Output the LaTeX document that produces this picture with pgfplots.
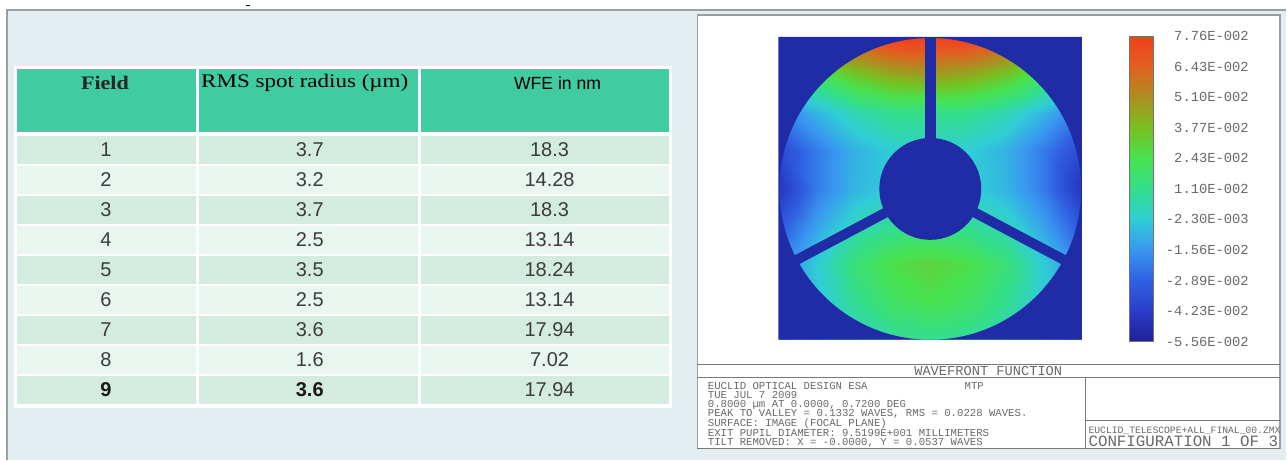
\documentclass[border=0pt]{standalone}
\usepackage{pgfplots}
\usepackage{pgfplotstable}
\pgfplotsset{compat=1.18}
\usepackage{fontspec}
\setmainfont{Liberation Sans}
\newfontfamily\serifface{Liberation Serif}
\newfontfamily\monoface{Liberation Mono}
\definecolor{bg}{RGB}{228,238,241}
\definecolor{framec}{RGB}{150,160,162}
\definecolor{hdr}{RGB}{64,204,160}
\definecolor{rowA}{RGB}{212,236,224}
\definecolor{rowB}{RGB}{233,245,239}
\definecolor{deep}{RGB}{32,44,165}
\definecolor{txt}{RGB}{60,60,60}
\definecolor{ztxt}{RGB}{105,105,105}
\definecolor{zline}{RGB}{120,120,120}
\pgfplotsset{colormap={wf}{rgb255(0cm)=(32,32,150); rgb255(1cm)=(40,60,200); rgb255(2cm)=(48,96,226); rgb255(3cm)=(56,150,240); rgb255(4cm)=(48,205,214); rgb255(5cm)=(52,222,140); rgb255(6cm)=(72,226,80); rgb255(7cm)=(120,192,32); rgb255(8cm)=(172,142,32); rgb255(9cm)=(226,96,32); rgb255(10cm)=(242,64,30)}}

\pgfplotstableread[col sep=comma]{
x,y,lab
106,150,1
106,180,2
106,210,3
106,240,4
106,270,5
106,300,6
106,330,7
106,360,8
310,150,3.7
310,180,3.2
310,210,3.7
310,240,2.5
310,270,3.5
310,300,2.5
310,330,3.6
310,360,1.6
550,150,18.3
550,180,14.28
550,210,18.3
550,240,13.14
550,270,18.24
550,300,13.14
550,330,17.94
550,360,7.02
550,390,17.94
}\bodytab

\pgfplotstableread[col sep=comma]{
x,y,lab
106,390,9
310,390,3.6
}\boldtab

\pgfplotstableread{
x y z
-1 -1 -0.015
-0.75 -1 -0.008
-0.5 -1 0.002
-0.25 -1 0.008
0 -1 0.010
0.25 -1 0.008
0.5 -1 0.002
0.75 -1 -0.008
1 -1 -0.015
-1 -0.75 -0.015
-0.75 -0.75 -0.004
-0.5 -0.75 0.010
-0.25 -0.75 0.020
0 -0.75 0.024
0.25 -0.75 0.020
0.5 -0.75 0.010
0.75 -0.75 -0.004
1 -0.75 -0.015
-1 -0.5 -0.020
-0.75 -0.5 -0.002
-0.5 -0.5 0.016
-0.25 -0.5 0.026
0 -0.5 0.030
0.25 -0.5 0.026
0.5 -0.5 0.016
0.75 -0.5 -0.002
1 -0.5 -0.020
-1 -0.25 -0.032
-0.75 -0.25 -0.012
-0.5 -0.25 0.003
-0.25 -0.25 0.010
0 -0.25 0.012
0.25 -0.25 0.010
0.5 -0.25 0.003
0.75 -0.25 -0.012
1 -0.25 -0.032
-1 0 -0.045
-0.75 0 -0.022
-0.5 0 -0.008
-0.25 0 -0.002
0 0 0.000
0.25 0 -0.002
0.5 0 -0.008
0.75 0 -0.022
1 0 -0.045
-1 0.25 -0.038
-0.75 0.25 -0.022
-0.5 0.25 -0.009
-0.25 0.25 -0.002
0 0.25 0.000
0.25 0.25 -0.002
0.5 0.25 -0.009
0.75 0.25 -0.022
1 0.25 -0.038
-1 0.5 -0.022
-0.75 0.5 -0.008
-0.5 0.5 0.004
-0.25 0.5 0.011
0 0.5 0.012
0.25 0.5 0.011
0.5 0.5 0.004
0.75 0.5 -0.008
1 0.5 -0.022
-1 0.75 0.006
-0.75 0.75 0.020
-0.5 0.75 0.034
-0.25 0.75 0.043
0 0.75 0.046
0.25 0.75 0.043
0.5 0.75 0.034
0.75 0.75 0.020
1 0.75 0.006
-1 1 0.045
-0.75 1 0.056
-0.5 1 0.068
-0.25 1 0.078
0 1 0.082
0.25 1 0.078
0.5 1 0.068
0.75 1 0.056
1 1 0.045
}\wftab

\begin{document}
\begin{tikzpicture}
\begin{axis}[at={(0pt,0pt)}, anchor=north west, scale only axis,
  width=643.5pt, height=230pt, xmin=0, xmax=1287, ymin=0, ymax=460,
  y dir=reverse, hide axis, clip=false]
% canvas
\fill[white] (axis cs:0,0) rectangle (axis cs:1287,460);
\fill[bg] (axis cs:7,9) rectangle (axis cs:1287,460);
\draw[framec, line width=1pt] (axis cs:7,460) -- (axis cs:7,9.5) -- (axis cs:1287,9.5);
\fill[black] (axis cs:246,4.5) rectangle (axis cs:250,6);
% table frame and cells
\fill[white] (axis cs:14,66) rectangle (axis cs:673,408);
\fill[hdr] (axis cs:17,69) rectangle (axis cs:196,132);
\fill[hdr] (axis cs:199,69) rectangle (axis cs:418,132);
\fill[hdr] (axis cs:421,69) rectangle (axis cs:670,132);
\pgfplotsinvokeforeach{0,2,4,6,8}{
  \fill[rowA] (axis cs:17,{136+30*#1}) rectangle (axis cs:196,{164+30*#1});
  \fill[rowA] (axis cs:199,{136+30*#1}) rectangle (axis cs:418,{164+30*#1});
  \fill[rowA] (axis cs:421,{136+30*#1}) rectangle (axis cs:670,{164+30*#1});
}
\pgfplotsinvokeforeach{1,3,5,7}{
  \fill[rowB] (axis cs:17,{136+30*#1}) rectangle (axis cs:196,{164+30*#1});
  \fill[rowB] (axis cs:199,{136+30*#1}) rectangle (axis cs:418,{164+30*#1});
  \fill[rowB] (axis cs:421,{136+30*#1}) rectangle (axis cs:670,{164+30*#1});
}
% header text
\addplot[draw=none, mark=none, point meta=explicit symbolic,
  nodes near coords={\scalebox{1.15}[1]{\pgfplotspointmeta}},
  every node near coord/.append style={font=\serifface\bfseries\fontsize{9.6}{11}\selectfont, text=black!85, anchor=center, inner sep=0pt}]
  table[col sep=comma, meta=lab] {
x,y,lab
105,83,Field
};
\addplot[draw=none, mark=none, point meta=explicit symbolic,
  nodes near coords={\scalebox{1.2}[1]{\pgfplotspointmeta}},
  every node near coord/.append style={font=\serifface\fontsize{9.6}{11}\selectfont, text=black, anchor=center, inner sep=0pt}]
  table[col sep=comma, meta=lab] {
x,y,lab
305,83,RMS spot radius (µm)
};
\addplot[draw=none, mark=none, point meta=explicit symbolic, nodes near coords,
  every node near coord/.append style={font=\fontsize{8.8}{10}\selectfont, text=black, anchor=center, inner sep=0pt}]
  table[col sep=comma, meta=lab] {
x,y,lab
558,83,WFE in nm
};
% body text
\addplot[draw=none, mark=none, point meta=explicit symbolic, nodes near coords,
  every node near coord/.append style={font=\fontsize{10}{12}\selectfont, text=txt, anchor=center, inner sep=0pt}]
  table[x=x, y=y, meta=lab] {\bodytab};
\addplot[draw=none, mark=none, point meta=explicit symbolic, nodes near coords,
  every node near coord/.append style={font=\bfseries\fontsize{10}{12}\selectfont, text=black!90, anchor=center, inner sep=0pt}]
  table[x=x, y=y, meta=lab] {\boldtab};
% right panel
\fill[white] (axis cs:698,15) rectangle (axis cs:1281,449);
\draw[framec, line width=0.6pt] (axis cs:698,15) rectangle (axis cs:1281,449);
\draw[zline, line width=0.5pt] (axis cs:698,365) -- (axis cs:1281,365);
\draw[zline, line width=0.5pt] (axis cs:698,378) -- (axis cs:1281,378);
\draw[zline, line width=0.5pt] (axis cs:1086,378) -- (axis cs:1086,449);
\draw[zline, line width=0.5pt] (axis cs:1086,421) -- (axis cs:1281,421);
\draw[zline, line width=0.5pt] (axis cs:698,449) -- (axis cs:1281,449);
\node[font=\monoface\fontsize{6.85}{8}\selectfont, text=ztxt, inner sep=0pt] at (axis cs:989,371.5) {WAVEFRONT FUNCTION};
\begin{scope}[every node/.style={font=\monoface\fontsize{5.33}{6}\selectfont, text=ztxt, inner sep=0pt, anchor=west}]
\node at (axis cs:708,386) {EUCLID OPTICAL DESIGN ESA};
\node at (axis cs:965,386) {MTP};
\node at (axis cs:708,395.5) {TUE JUL 7 2009};
\node at (axis cs:708,405) {0.8000 µm AT 0.0000, 0.7200 DEG};
\node at (axis cs:708,414.5) {PEAK TO VALLEY = 0.1332 WAVES, RMS = 0.0228 WAVES.};
\node at (axis cs:708,424) {SURFACE: IMAGE (FOCAL PLANE)};
\node at (axis cs:708,433.5) {EXIT PUPIL DIAMETER: 9.5199E+001 MILLIMETERS};
\node at (axis cs:708,443) {TILT REMOVED: X = -0.0000, Y = 0.0537 WAVES};
\end{scope}
\node[font=\monoface\fontsize{4.85}{6}\selectfont, text=ztxt, inner sep=0pt, anchor=west] at (axis cs:1089,431) {EUCLID\_TELESCOPE+ALL\_FINAL\_00.ZMX};
\node[font=\monoface\fontsize{7.9}{9}\selectfont, text=ztxt, inner sep=0pt, anchor=west] at (axis cs:1089,442) {CONFIGURATION 1 OF 3};
\end{axis}

\begin{axis}[at={(389.5pt,-18.5pt)}, anchor=north west, scale only axis,
  width=152pt, height=151.5pt, view={0}{90},
  xmin=-1.007, xmax=1.007, ymin=-1, ymax=1.007, hide axis,
  colormap name=wf, point meta min=-0.0556, point meta max=0.0776,
  colorbar,
  colorbar style={at={(parent axis.north east)}, anchor=north west,
    xshift=15pt, yshift=0.5pt, scale only axis, width=12pt, height=153pt,
    scaled y ticks=false,
    ytick={-0.0556,-0.04228,-0.02896,-0.01564,-0.00232,0.011,0.02432,0.03764,0.05096,0.06428,0.0776},
    yticklabels={-5.56E-002,-4.23E-002,-2.89E-002,-1.56E-002,-2.30E-003,1.10E-002,2.43E-002,3.77E-002,5.10E-002,6.43E-002,7.76E-002},
    yticklabel style={font=\monoface\fontsize{6.9}{8}\selectfont, text=ztxt, anchor=east, xshift=48pt, inner sep=0pt},
    major tick length=0pt, axis line style={black!55, line width=0.4pt}}]
\addplot3[surf, shader=interp, mesh/rows=9, mesh/cols=9] table[x=x, y=y, z=z] {\wftab};
\fill[deep, even odd rule] (axis cs:-1.007,-1,0) rectangle (axis cs:1.007,1.007,0) (axis cs:0,0,0) circle[radius=75.5pt];
\fill[deep] (axis cs:0,0,0) circle[radius=25.5pt];
\fill[deep] (axis cs:-0.035,0,0) rectangle (axis cs:0.035,1.007,0);
\fill[deep] (axis cs:0.0155,-0.0291,0) -- (axis cs:-0.894,-0.512,0) -- (axis cs:-0.925,-0.454,0) -- (axis cs:-0.0155,0.0291,0) -- cycle;
\fill[deep] (axis cs:-0.0155,-0.0291,0) -- (axis cs:0.894,-0.512,0) -- (axis cs:0.925,-0.454,0) -- (axis cs:0.0155,0.0291,0) -- cycle;
\end{axis}
\end{tikzpicture}
\end{document}
